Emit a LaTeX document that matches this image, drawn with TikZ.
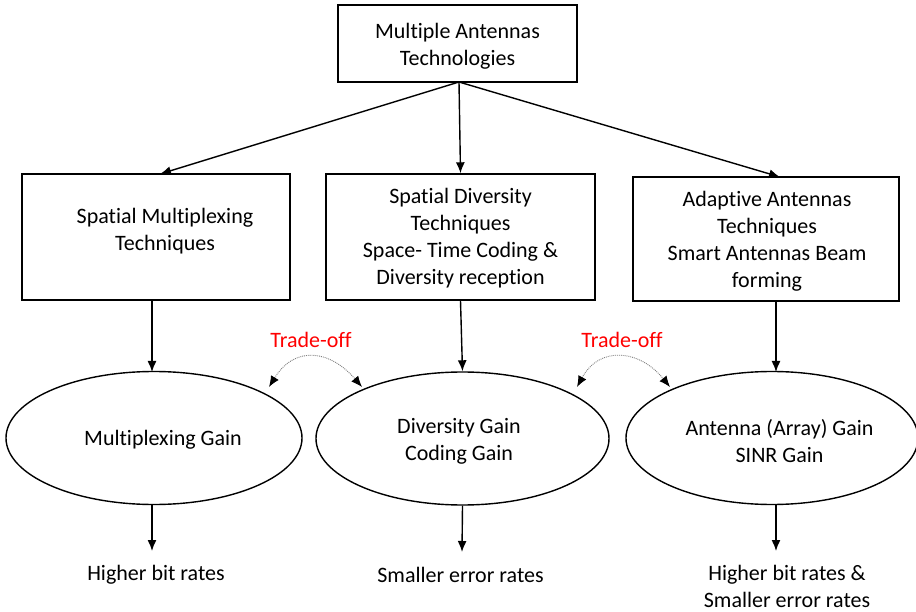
\documentclass[tikz,border=0pt]{standalone}
\usepackage{fontspec}
\setmainfont{Carlito}[Ligatures={NoCommon}]
\usetikzlibrary{shapes.geometric,arrows.meta}
\begin{document}
\begin{tikzpicture}[x=1pt,y=-1pt,
  box/.style={draw,line width=1.4pt,inner sep=0pt},
  oval/.style={draw,ellipse,line width=1.4pt,inner sep=0pt,minimum width=296pt,minimum height=133pt},
  txt/.style={align=center,inner sep=0pt,font=\fontsize{22}{27}\selectfont},
  arr/.style={-{Latex[length=11pt,width=9pt]},line width=1.4pt},
  trade/.style={{Latex[length=11pt,width=9pt,color=black]}-{Latex[length=11pt,width=9pt,color=black]},densely dotted,gray,line width=0.9pt},
  tlab/.style={text=red,inner sep=0pt,font=\fontsize{22}{27}\selectfont}]
\useasboundingbox[fill=white] (0,0) rectangle (916,612);
\node[box,minimum width=239pt,minimum height=77pt] (top) at (457.5,43.5) {};
\node[txt] (topt) at (457.5,46) {Multiple Antennas\\Technologies};
\node[box,minimum width=268pt,minimum height=126pt] (l) at (156,237) {};
\node[txt] (lt) at (165,231) {Spatial Multiplexing\\Techniques};
\node[box,minimum width=269pt,minimum height=126pt] (m) at (460.5,237) {};
\node[txt] (mt) at (460.5,238.5) {Spatial Diversity\\Techniques\\Space- Time Coding \&\\Diversity reception};
\node[box,minimum width=266pt,minimum height=124pt] (r) at (766,239) {};
\node[txt] (rt) at (767,241) {Adaptive Antennas\\Techniques\\Smart Antennas Beam\\forming};
\node[oval] (le) at (154,438) {};
\node[txt] (let) at (163,440) {Multiplexing Gain};
\node[oval,minimum width=293pt] (me) at (462.5,438.5) {};
\node[txt] (met) at (459,441) {Diversity Gain\\Coding Gain};
\node[oval,minimum width=292pt] (re) at (772,438) {};
\node[txt] (ret) at (779.5,441) {Antenna (Array) Gain\\SINR Gain};
\node[txt] (lo) at (156,575) {Higher bit rates};
\node[txt] (mo) at (460.5,575) {Smaller error rates};
\node[txt] (ro) at (787,586) {Higher bit rates \&\\Smaller error rates};
\node[tlab] (t1) at (311,340) {Trade-off};
\node[tlab] (t2) at (622,340) {Trade-off};
\coordinate (tb) at (459,82);
\draw[arr] (tb) -- (160,174);
\draw[arr] (tb) -- (m.north);
\draw[arr] (tb) -- (780,177);
\draw[arr] (152,300) -- (152,372);
\draw[arr] (m.south) -- (me.north);
\draw[arr] (776,301) -- (776,372);
\draw[arr] (152,504) -- (152,551);
\draw[arr] (me.south) -- (462,552);
\draw[arr] (776,504) -- (776,551);
\coordinate (a1) at (269,387);
\coordinate (b1) at (362,387);
\coordinate (a2) at (577,387);
\coordinate (b2) at (670,387);
\draw[trade] (a1) .. controls (295,345) and (330,350) .. (b1);
\draw[trade] (a2) .. controls (600,345) and (640,350) .. (b2);
\end{tikzpicture}
\end{document}
